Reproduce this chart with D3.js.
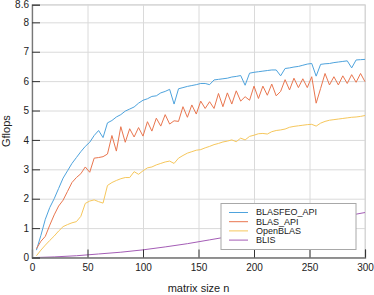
<!DOCTYPE html>
<html>
<head>
<meta charset="utf-8">
<script src="https://cdn.jsdelivr.net/npm/d3@7"></script>
<style>
  body { margin: 0; background: #fff; }
  svg { display: block; font-family: "Liberation Sans", Arial, Helvetica, sans-serif; }
</style>
</head>
<body>
<svg class="chart" width="374" height="295"></svg>
<script>
const seriesNames = ["BLASFEO_API", "BLAS_API", "OpenBLAS", "BLIS"];
const seriesColors = ["#4ea3dd", "#e9764f", "#f6c75c", "#a45db6"];

const nSizes = [4, 8, 12, 16, 20, 24, 28, 32, 36, 40, 44, 48, 52, 56, 60, 64, 68, 72, 76, 80,
  84, 88, 92, 96, 100, 104, 108, 112, 116, 120, 124, 128, 132, 136, 140, 144, 148, 152, 156, 160,
  164, 168, 172, 176, 180, 184, 188, 192, 196, 200, 204, 208, 212, 216, 220, 224, 228, 232, 236, 240,
  244, 248, 252, 256, 260, 264, 268, 272, 276, 280, 284, 288, 292, 296, 300];

const blasfeoApi = [0.25, 0.75, 1.3, 1.7, 2.0, 2.35, 2.7, 2.95, 3.2, 3.4, 3.6, 3.78, 3.92, 4.15, 4.32, 4.08, 4.58, 4.66, 4.78, 4.86,
  4.98, 5.05, 5.12, 5.25, 5.35, 5.4, 5.48, 5.5, 5.6, 5.65, 5.72, 5.22, 5.74, 5.78, 5.82, 5.85, 5.88, 5.92, 5.92, 5.88,
  6.04, 6.06, 6.08, 6.1, 6.14, 6.16, 6.19, 5.86, 6.27, 6.3, 6.32, 6.34, 6.36, 6.38, 6.38, 6.18, 6.43, 6.45, 6.48, 6.5,
  6.54, 6.58, 6.6, 6.17, 6.57, 6.59, 6.6, 6.63, 6.65, 6.67, 6.69, 6.45, 6.72, 6.73, 6.74];

const blasApi = [0.3, 0.55, 0.72, 1.1, 1.45, 1.75, 1.95, 2.25, 2.55, 2.72, 2.85, 3.08, 2.9, 3.38, 3.4, 3.43, 3.52, 4.15, 3.62, 4.45,
  3.92, 4.38, 4.1, 4.42, 4.13, 4.62, 4.3, 4.74, 4.47, 4.86, 4.54, 4.65, 4.63, 5.13, 4.77, 5.19, 4.88, 5.32, 5.07, 5.3,
  5.07, 5.58, 5.13, 5.6, 5.22, 5.67, 5.32, 5.47, 5.35, 5.83, 5.41, 5.83, 5.52, 5.9, 5.5, 5.65, 6.05, 5.7, 6.1, 5.78,
  6.08, 5.78, 6.15, 5.25, 5.75, 6.26, 5.87, 6.15, 5.87, 6.18, 5.92, 6.22, 5.96, 6.26, 5.98];

const openBlas = [0.06, 0.25, 0.42, 0.58, 0.73, 0.9, 1.05, 1.12, 1.18, 1.22, 1.4, 1.84, 1.92, 1.96, 1.9, 1.85, 2.45, 2.55, 2.62, 2.68,
  2.72, 2.72, 2.92, 2.83, 2.95, 3.05, 3.08, 3.15, 3.2, 3.25, 3.28, 3.2, 3.38, 3.47, 3.55, 3.6, 3.65, 3.67, 3.73, 3.78,
  3.84, 3.88, 3.93, 3.96, 4.0, 3.94, 4.06, 4.0, 4.12, 4.16, 4.21, 4.22, 4.2, 4.28, 4.32, 4.34, 4.37, 4.43, 4.46, 4.48,
  4.5, 4.52, 4.53, 4.47, 4.57, 4.63, 4.67, 4.69, 4.71, 4.73, 4.75, 4.77, 4.78, 4.8, 4.83];

const blisSizes = [4, 20, 40, 60, 80, 100, 120, 140, 160, 180, 200, 220, 240, 260, 280, 300];
const blis = [0.0, 0.02, 0.06, 0.12, 0.18, 0.26, 0.36, 0.47, 0.6, 0.73, 0.87, 1.0, 1.13, 1.26, 1.39, 1.53];

const xTicks = [0, 50, 100, 150, 200, 250, 300];
const yTicks = [0, 1, 2, 3, 4, 5, 6, 7, 8, 8.6];

const svg = d3.select(".chart");

const plotLeft = 32, plotRight = 365, plotTop = 4.7, plotBottom = 257.5;

const xScale = d3.scaleLinear().domain([0, 300]).range([plotLeft, plotRight]);
const yScale = d3.scaleLinear().domain([0, 8.6]).range([plotBottom, plotTop]);

// grid
svg.append("g")
    .attr("transform", `translate(0, ${plotBottom})`)
    .call(d3.axisBottom(xScale).tickValues(xTicks).tickSize(-(plotBottom - plotTop)).tickFormat(""))
    .call(g => g.select(".domain").remove())
    .selectAll("line").attr("stroke", "#dadada");

svg.append("g")
    .attr("transform", `translate(${plotLeft}, 0)`)
    .call(d3.axisLeft(yScale).tickValues(yTicks).tickSize(-(plotRight - plotLeft)).tickFormat(""))
    .call(g => g.select(".domain").remove())
    .selectAll("line").attr("stroke", "#dadada");

// box top / right
svg.append("rect")
    .attr("x", plotLeft).attr("y", plotTop)
    .attr("width", plotRight - plotLeft).attr("height", plotBottom - plotTop)
    .attr("fill", "none").attr("stroke", "#d4d4d4");

// lines
const lineOf = xs => d3.line()
    .x((d, i) => xScale(xs[i]))
    .y(d => yScale(d));

const allSeries = [
    { name: seriesNames[0], xs: nSizes, ys: blasfeoApi },
    { name: seriesNames[1], xs: nSizes, ys: blasApi },
    { name: seriesNames[2], xs: nSizes, ys: openBlas },
    { name: seriesNames[3], xs: blisSizes, ys: blis }
];

allSeries.forEach((s, k) => {
    svg.append("path")
        .datum(s.ys)
        .attr("fill", "none")
        .attr("stroke", seriesColors[k])
        .attr("stroke-width", 1)
        .attr("stroke-linejoin", "round")
        .attr("d", lineOf(s.xs));
});

// axes
const xAxis = svg.append("g")
    .attr("transform", `translate(0, ${plotBottom})`)
    .call(d3.axisBottom(xScale).tickValues(xTicks).tickSize(-8).tickPadding(4));
const yAxis = svg.append("g")
    .attr("transform", `translate(${plotLeft}, 0)`)
    .call(d3.axisLeft(yScale).tickValues(yTicks).tickSize(-8).tickPadding(3).tickFormat(d => d));

[xAxis, yAxis].forEach(g => {
    g.select(".domain").attr("stroke", "#777").attr("stroke-width", 1.3);
    g.selectAll(".tick line").attr("stroke", "#333");
    g.selectAll(".tick text").attr("fill", "#222").style("font-size", "10px")
        .style("font-family", "'Liberation Sans', Arial, sans-serif");
});
xAxis.selectAll(".tick text").attr("dy", "0.9em");

svg.append("text")
    .attr("x", (plotLeft + plotRight) / 2).attr("y", 292)
    .attr("text-anchor", "middle")
    .style("font-size", "11px").attr("fill", "#222")
    .text("matrix size n");

svg.append("text")
    .attr("transform", `translate(10, ${(plotTop + plotBottom) / 2}) rotate(-90)`)
    .attr("text-anchor", "middle")
    .style("font-size", "11px").attr("fill", "#222")
    .text("Gflops");

// legend
const legend = svg.append("g").attr("transform", "translate(221, 203.5)");
legend.append("rect")
    .attr("width", 135).attr("height", 46)
    .attr("fill", "#fff").attr("stroke", "#a8a8a8");

legend.selectAll("g.item")
    .data(seriesNames)
    .join("g")
    .attr("class", "item")
    .attr("transform", (d, i) => `translate(0, ${9 + i * 9.2})`)
    .each(function (d, i) {
        const g = d3.select(this);
        g.append("line")
            .attr("x1", 8).attr("x2", 27)
            .attr("stroke", seriesColors[i]).attr("stroke-width", 1);
        g.append("text")
            .attr("x", 35).attr("dy", "0.33em")
            .style("font-size", "9px").attr("fill", "#222")
            .text(d);
    });
</script>
</body>
</html>
